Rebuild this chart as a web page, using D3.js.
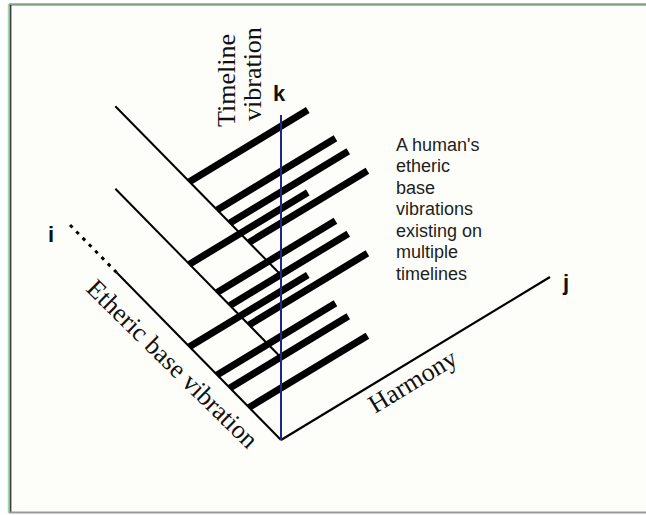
<!DOCTYPE html>
<html>
<head>
<meta charset="utf-8">
<script src="https://cdn.jsdelivr.net/npm/d3@7/dist/d3.min.js"></script>
<style>
  html, body { margin: 0; padding: 0; background: #fff; }
  svg { display: block; }
</style>
</head>
<body>
<div id="chart"></div>
<script>
// ── DATA ─────────────────────────────────────
// three timelines stacked along k
const timelines = [0, 1, 2];
// where each thick bar leaves its timeline (along i)
const barPositions = [1.5, 2.4, 3.0, 4.3];
// bar length along the harmony axis (j)
const barLength = 4.4;

const iSolidEnd = 7.72;   // main axis, solid part
const iDottedEnd = 10;    // main axis, dotted to "i"
const iUpperEnd = 7.78;   // the two upper timelines
const jAxisEnd = 10;      // harmony axis to "j"
const kAxisEnd = 3.94;    // blue timeline axis to "k"

const noteLines = ["A human's", 'etheric', 'base', 'vibrations', 'existing on', 'multiple', 'timelines'];

// ── LAYOUT ───────────────────────────────────
const W = 646, H = 515;
const O = { x: 281, y: 440 };

const iScale = d3.scaleLinear().domain([0, 10]).range([0, 304]);
const jScale = d3.scaleLinear().domain([0, 10]).range([0, 314.5]);
const kScale = d3.scaleLinear().domain([0, 4]).range([0, 330]);

const unit = (x, y) => { const l = Math.hypot(x, y); return { x: x / l, y: y / l }; };
const iDir = unit(-213, -217);
const jDir = unit(269, -163);

function project(i, j, k) {
  return [
    O.x + iScale(i) * iDir.x + jScale(j) * jDir.x,
    O.y + iScale(i) * iDir.y + jScale(j) * jDir.y - kScale(k)
  ];
}

const line = d3.line();

const svg = d3.select('#chart').append('svg')
  .attr('width', W)
  .attr('height', H)
  .attr('viewBox', `0 0 ${W} ${H}`);

// ── FRAME ────────────────────────────────────
svg.append('rect')
  .attr('x', 10).attr('y', 5)
  .attr('width', W - 10).attr('height', 507)
  .attr('fill', '#fdfdf9');

svg.append('line').attr('x1', 9).attr('x2', W).attr('y1', 4.5).attr('y2', 4.5)
  .attr('stroke', '#86a08a').attr('stroke-width', 2.5);
svg.append('line').attr('x1', 8.5).attr('x2', 8.5).attr('y1', 4).attr('y2', 513)
  .attr('stroke', '#a8d4b0').attr('stroke-width', 1.5);
svg.append('line').attr('x1', 10.5).attr('x2', 10.5).attr('y1', 5).attr('y2', 513)
  .attr('stroke', '#3c3c3c').attr('stroke-width', 1.8);
svg.append('line').attr('x1', 9).attr('x2', W).attr('y1', 512.5).attr('y2', 512.5)
  .attr('stroke', '#9a9a9a').attr('stroke-width', 1.8);

const g = svg.append('g');

// ── THIN TIMELINES ───────────────────────────
g.append('path')
  .attr('d', line([project(0, 0, 0), project(iSolidEnd, 0, 0)]))
  .attr('stroke', '#000').attr('stroke-width', 2).attr('fill', 'none');

g.append('path')
  .attr('d', line([project(iSolidEnd, 0, 0), project(iDottedEnd, 0, 0)]))
  .attr('stroke', '#000').attr('stroke-width', 3)
  .attr('stroke-dasharray', '3.5,5.5').attr('fill', 'none');

g.selectAll('.upper')
  .data(timelines.filter(k => k > 0))
  .enter().append('path')
  .attr('class', 'upper')
  .attr('d', k => line([project(0, 0, k), project(iUpperEnd, 0, k)]))
  .attr('stroke', '#000').attr('stroke-width', 2).attr('fill', 'none');

// harmony axis
g.append('path')
  .attr('d', line([project(0, 0, 0), project(0, jAxisEnd, 0)]))
  .attr('stroke', '#000').attr('stroke-width', 2.2).attr('fill', 'none');

// ── THICK BARS ───────────────────────────────
const bars = [];
timelines.forEach(k => barPositions.forEach(i => bars.push({ i, k })));

g.selectAll('.bar')
  .data(bars)
  .enter().append('path')
  .attr('class', 'bar')
  .attr('d', d => line([project(d.i, 0, d.k), project(d.i, barLength, d.k)]))
  .attr('stroke', '#000').attr('stroke-width', 7).attr('fill', 'none');

// ── BLUE k AXIS ──────────────────────────────
g.append('path')
  .attr('d', line([project(0, 0, 0), project(0, 0, kAxisEnd)]))
  .attr('stroke', '#1c2888').attr('stroke-width', 2).attr('fill', 'none');

// ── LABELS ───────────────────────────────────
const serif = '"Liberation Serif", "Times New Roman", serif';
const sans = '"Liberation Sans", Arial, Helvetica, sans-serif';

const tl = g.append('g').attr('font-family', serif).attr('font-size', 26).attr('fill', '#111');
tl.append('text').attr('transform', 'translate(235,127) rotate(-90)').text('Timeline');
tl.append('text').attr('transform', 'translate(261,121) rotate(-90)').text('vibration');

g.append('text')
  .attr('transform', 'translate(85,290) rotate(44.5)')
  .attr('font-family', serif).attr('font-size', 26).attr('fill', '#111')
  .text('Etheric base vibration');

g.append('text')
  .attr('transform', 'translate(375,414) rotate(-31.2)')
  .attr('font-family', serif).attr('font-size', 26).attr('fill', '#111')
  .text('Harmony');

const axisLabels = [
  { t: 'k', x: 273, y: 101 },
  { t: 'i', x: 48, y: 242 },
  { t: 'j', x: 563, y: 290 }
];
g.selectAll('.axlab')
  .data(axisLabels)
  .enter().append('text')
  .attr('class', 'axlab')
  .attr('x', d => d.x).attr('y', d => d.y)
  .attr('font-family', sans).attr('font-weight', 'bold').attr('font-size', 22)
  .attr('fill', '#111')
  .text(d => d.t);

g.append('g')
  .attr('font-family', sans).attr('font-size', 18).attr('fill', '#1e1e1e')
  .selectAll('text')
  .data(noteLines)
  .enter().append('text')
  .attr('x', 396)
  .attr('y', (d, n) => 150.7 + n * 21.5)
  .text(d => d);
</script>
</body>
</html>
